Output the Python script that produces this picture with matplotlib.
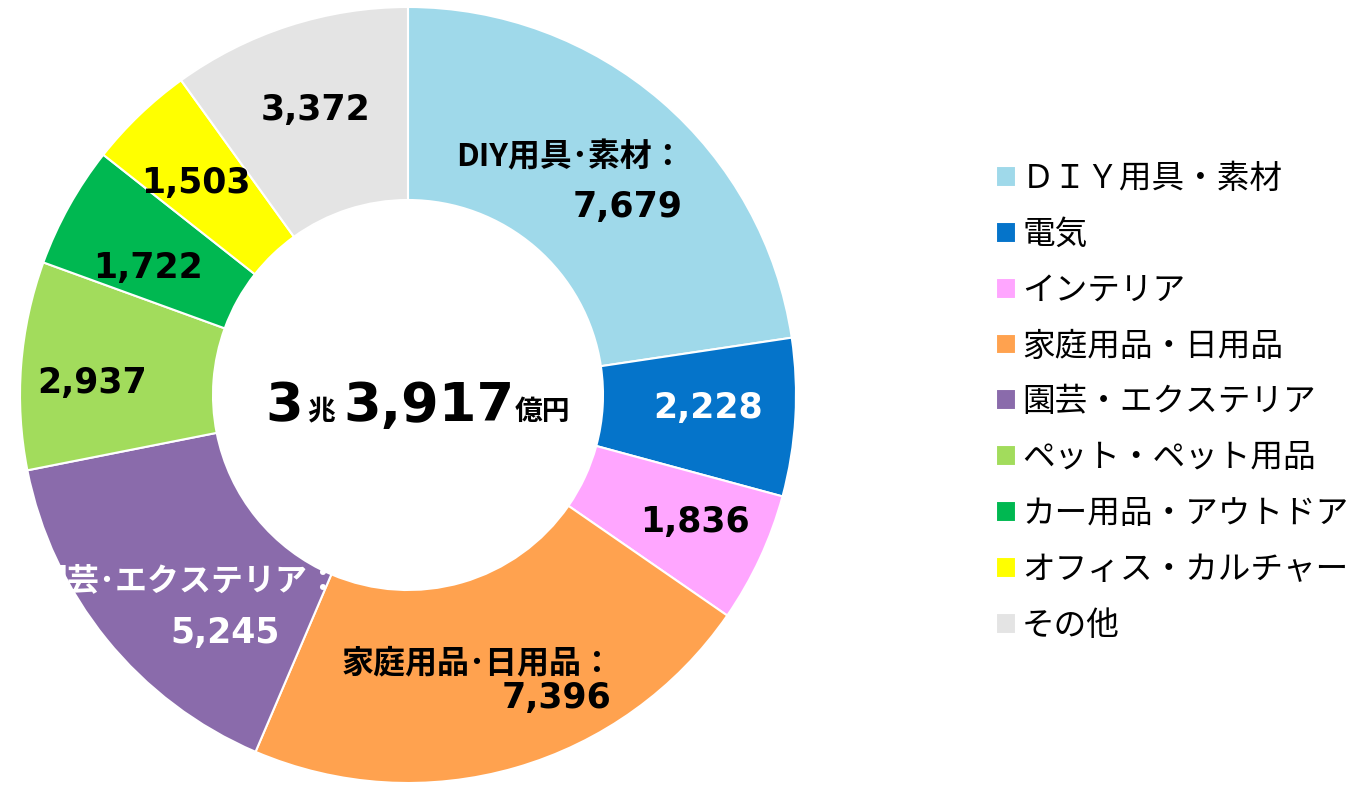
import matplotlib
matplotlib.use("Agg")
import matplotlib.pyplot as plt

plt.rcParams['font.family'] = ['Noto Sans CJK JP', 'DejaVu Sans']

# data
categories = ["ＤＩＹ用具・素材", "電気", "インテリア", "家庭用品・日用品", "園芸・エクステリア",
              "ペット・ペット用品", "カー用品・アウトドア", "オフィス・カルチャー", "その他"]
values = [7679, 2228, 1836, 7396, 5245, 2937, 1722, 1503, 3372]
colors = ["#9FD9EA", "#0574CA", "#FFA6FF", "#FFA24F", "#8A6BAB",
          "#A2DC5C", "#00B851", "#FFFF00", "#E4E4E4"]
slice_names = ["DIY用具･素材：", None, None, "家庭用品･日用品：", "園芸･エクステリア：",
               None, None, None, None]
total_text = ("3", "兆", "3,917", "億円")

NUM_FONT = ["DejaVu Sans"]

fig = plt.figure(figsize=(13.65, 7.85), dpi=100)
ax = fig.add_axes([0, 0, 1, 1])

cx, cy, R = 408, 785 - 395, 388
wedges, _ = ax.pie(values, colors=colors, startangle=90, counterclock=False,
                   radius=R, center=(cx, cy),
                   wedgeprops=dict(width=193, edgecolor="white", linewidth=1.5))
ax.set_xlim(0, 1365)
ax.set_ylim(0, 785)
ax.axis("off")

# label positions in pixels (name line, value line)
name_pos = {0: (570, 157), 3: (478, 663), 4: (188, 582)}
value_pos = [(628, 207), (708, 408), (695, 522), (557, 698), (225, 633),
             (92, 383), (148, 268), (196, 183), (316, 110)]
white = {1, 4}
for i, v in enumerate(values):
    col = "white" if i in white else "black"
    if slice_names[i]:
        nx, ny = name_pos[i]
        ax.text(nx, 785 - ny, slice_names[i], ha="center", va="center",
                fontsize=23, fontweight="bold", color=col)
    vx, vy = value_pos[i]
    ax.text(vx, 785 - vy, f"{v:,}", ha="center", va="center", family=NUM_FONT,
            fontsize=25, fontweight="bold", color=col)

# centre total
ax.text(265, 785 - 406, total_text[0], ha="left", va="center", family=NUM_FONT,
        fontsize=39, fontweight="bold")
ax.text(307, 785 - 411, total_text[1], ha="left", va="center", fontsize=20, fontweight="bold")
ax.text(343, 785 - 406, total_text[2], ha="left", va="center", family=NUM_FONT,
        fontsize=39, fontweight="bold")
ax.text(515, 785 - 412, total_text[3], ha="left", va="center", fontsize=20, fontweight="bold")

ax.legend(wedges, categories, loc="upper left", bbox_to_anchor=(983 / 1365, 1 - 150 / 785),
          frameon=False, fontsize=23.5, handlelength=0.6, handleheight=0.6,
          handletextpad=0.2, labelspacing=0.73, borderaxespad=0)

fig.savefig("out.png", dpi=100)
